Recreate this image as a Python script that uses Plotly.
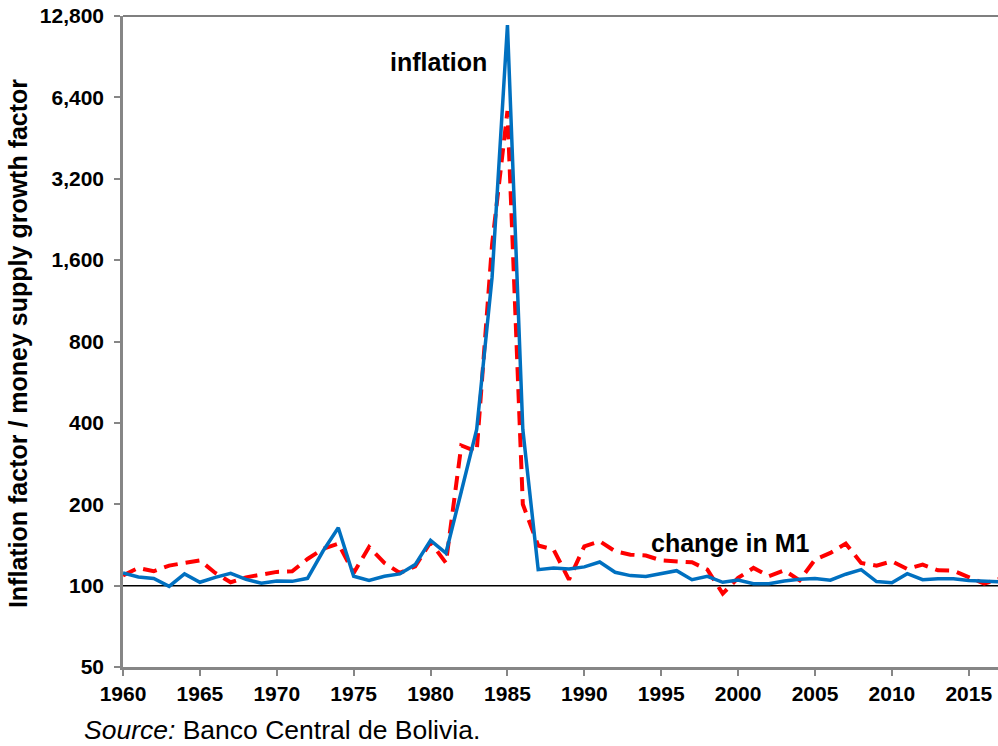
import plotly.graph_objects as go

# ---- data ----
years = list(range(1960, 2018))

inflation_factor = [
    111.4, 107.7, 106.2, 99.4, 110.5, 102.9, 107.3, 111.0, 105.5, 102.0,
    104.1, 103.7, 106.4, 134.0, 163.6, 108.3, 104.6, 108.3, 110.5, 119.6,
    147.0, 132.0, 223.0, 378.0, 1381.0, 11850.0, 378.0, 114.6, 116.3, 115.3,
    117.3, 122.3, 112.0, 108.9, 108.0, 110.5, 113.6, 105.2, 108.3, 102.9,
    104.9, 101.7, 101.7, 104.0, 105.5, 106.2, 104.7, 110.2, 114.6, 103.5,
    102.5, 110.7, 105.2, 106.1, 106.1, 104.4, 103.7, 103.4,
]

m1_growth_factor = [
    109.0, 116.3, 113.0, 118.6, 121.3, 124.0, 111.4, 102.9, 107.3, 109.8,
    112.4, 113.0, 125.5, 136.7, 143.0, 111.4, 139.0, 121.3, 111.4, 117.9,
    144.7, 121.3, 330.0, 313.0, 1830.0, 5700.0, 200.0, 140.7, 136.0, 105.2,
    139.8, 145.9, 134.0, 130.2, 129.2, 124.0, 123.0, 122.0, 114.6, 93.4,
    106.8, 116.3, 108.3, 113.9, 104.6, 124.8, 132.1, 143.0, 121.3, 118.6,
    123.0, 115.3, 119.6, 113.9, 113.6, 107.7, 101.7, 105.9,
]

y_tick_values = [50, 100, 200, 400, 800, 1600, 3200, 6400, 12800]
y_tick_labels = ["50", "100", "200", "400", "800", "1,600", "3,200", "6,400", "12,800"]
x_tick_values = list(range(1960, 2016, 5))
reference_level = 100

FONT = "Arial, Liberation Sans, sans-serif"
GREY = "#868686"

fig = go.Figure()

fig.add_trace(go.Scatter(
    x=years, y=m1_growth_factor, mode="lines", name="change in M1",
    line=dict(color="#FF0000", width=4, dash="14px,8px"),
))
fig.add_trace(go.Scatter(
    x=years, y=inflation_factor, mode="lines", name="inflation",
    line=dict(color="#0070C0", width=3.5),
))

fig.add_hline(y=reference_level, line=dict(color="black", width=1.5), layer="below")

# top border of plot area
fig.add_shape(type="line", xref="paper", yref="paper", x0=0, x1=1, y0=1, y1=1,
              line=dict(color="black", width=1.2))

fig.update_layout(
    width=998, height=746,
    margin=dict(l=123, r=0, t=16, b=79, autoexpand=False),
    paper_bgcolor="white", plot_bgcolor="white",
    showlegend=False,
    font=dict(family=FONT, color="black"),
    xaxis=dict(
        range=[1960, 2016.9], automargin=False,
        tickmode="array", tickvals=x_tick_values,
        ticks="outside", ticklen=6, tickwidth=1.5, tickcolor=GREY,
        showline=True, linecolor=GREY, linewidth=2.5,
        showgrid=False, zeroline=False,
        tickfont=dict(family=FONT, size=21, color="black", weight="bold"),
    ),
    yaxis=dict(
        type="log", automargin=False,
        range=[1.69897, 4.10721],
        tickmode="array", tickvals=y_tick_values, ticktext=y_tick_labels,
        ticks="outside", ticklen=6, tickwidth=1.5, tickcolor=GREY,
        ticklabelstandoff=6,
        showline=True, linecolor=GREY, linewidth=2.5,
        showgrid=False, zeroline=False,
        tickfont=dict(family=FONT, size=21, color="black", weight="bold"),
    ),
    annotations=[
        dict(text="<b>inflation</b>", xref="paper", yref="paper", x=0.36, y=0.929,
             showarrow=False, font=dict(family=FONT, size=25, color="black"),
             xanchor="center", yanchor="middle"),
        dict(text="<b>change in M1</b>", xref="paper", yref="paper", x=0.694, y=0.1905,
             showarrow=False, font=dict(family=FONT, size=25, color="black"),
             xanchor="center", yanchor="middle"),
        dict(text="<b>Inflation factor / money supply growth factor</b>",
             xref="paper", yref="paper", x=-0.12, y=0.496, textangle=-90,
             showarrow=False, font=dict(family=FONT, size=25, color="black"),
             xanchor="center", yanchor="middle"),
        dict(text="<i>Source:</i> Banco Central de Bolivia.",
             xref="paper", yref="paper", x=-0.0469, y=-0.0968,
             showarrow=False, font=dict(family=FONT, size=26.5, color="black"),
             xanchor="left", yanchor="middle"),
    ],
)

fig.write_html(
    "out.html",
    config={"displayModeBar": False},
    post_script="document.body.style.margin='0';document.body.style.padding='0';",
)
